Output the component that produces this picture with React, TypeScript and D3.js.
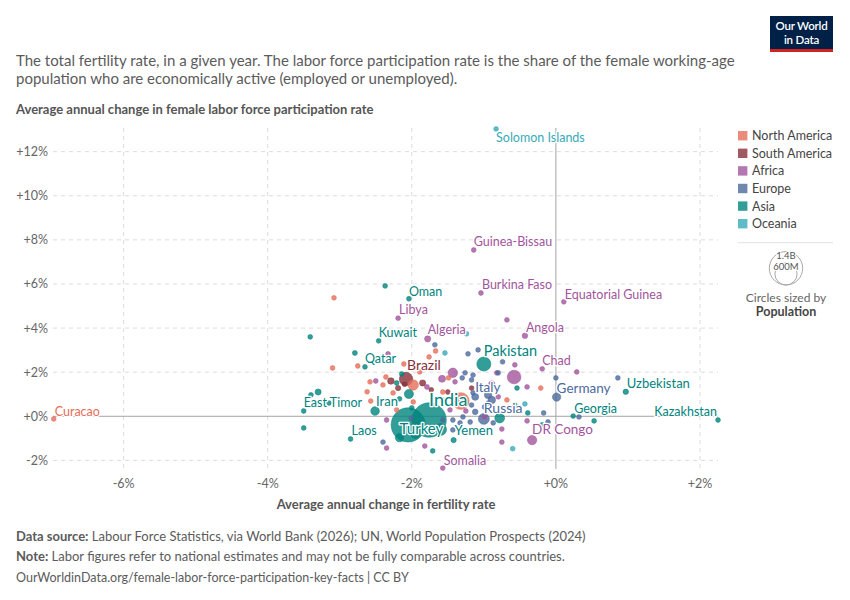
import React from "react";
import * as d3 from "d3";

const FONT = "Lato, 'Noto Sans', 'DejaVu Sans', sans-serif";

const regions = ["North America", "South America", "Africa", "Europe", "Asia", "Oceania"];
const regionColors = ["#E56E5A", "#883039", "#A2559C", "#4C6A9C", "#00847E", "#38AABA"];

const xTicks = [-6, -4, -2, 0, 2];
const yTicks = [-2, 0, 2, 4, 6, 8, 10, 12];

// [fertility change %, labor force change %, population (millions)]
type Pt = [number, number, number];

const northAmerica: Pt[] = [
  [-3.08, 5.37, 3], [-1.67, 2.96, 3], [-3.10, 2.19, 2], [-2.75, 2.28, 3], [-2.11, 2.37, 2],
  [-1.76, 2.69, 4], [-2.36, 1.78, 3], [-2.58, 1.56, 5], [-2.40, 1.42, 6], [-1.98, 1.42, 130],
  [-2.26, 1.06, 10], [-2.62, 1.11, 2], [-2.57, 0.69, 5], [-2.21, 0.29, 11], [-1.98, 0.65, 3],
  [-1.57, 1.10, 4], [-1.32, 0.69, 340], [-0.68, 0.74, 5], [-0.21, 1.28, 3], [-1.89, 2.01, 2],
  [-1.49, 1.74, 2],
];

const southAmerica: Pt[] = [
  [-2.29, 1.60, 52], [-1.85, 1.51, 46], [-1.50, 1.10, 7], [-1.17, 1.28, 12], [-2.19, 1.28, 34],
  [-1.73, 1.20, 28], [-2.10, 1.45, 20],
];

const africa: Pt[] = [
  [-0.68, 4.37, 9], [-2.33, 2.83, 6], [-0.57, 2.33, 12], [0.29, 2.01, 5], [-0.82, 1.97, 8],
  [-0.58, 1.78, 225], [-1.43, 1.97, 110], [-1.58, 1.70, 60], [-1.40, 1.56, 14], [-0.89, 1.47, 45],
  [-2.50, 1.60, 6], [-1.79, 1.33, 30], [-2.35, -0.17, 9], [-1.47, 0.29, 17], [-0.99, -0.03, 20],
  [-0.40, -0.21, 8], [-0.75, -0.58, 13], [-0.75, -1.17, 10], [-1.82, -1.35, 6], [-2.35, -1.44, 4],
  [-0.80, 0.88, 12], [-0.40, 1.33, 15], [-1.25, 0.24, 25],
];

const europe: Pt[] = [
  [-1.22, 2.83, 3], [-1.08, 3.01, 4], [-1.68, 3.24, 2], [-0.74, 2.47, 3], [-1.26, 1.97, 5],
  [-1.15, 1.87, 6], [-1.30, 1.74, 4], [-0.80, 1.97, 3], [-1.17, 1.65, 10], [-1.15, 1.06, 5],
  [-0.89, 0.74, 68], [-0.94, 0.60, 10], [-0.99, 0.42, 19], [-1.57, 0.74, 8], [-1.12, 0.20, 38],
  [-1.17, 0.51, 11], [-1.29, -0.03, 5], [-1.19, -0.26, 9], [-1.33, -0.30, 6], [-1.43, -0.17, 4],
  [-1.57, -0.17, 3], [-0.87, -0.30, 10], [-2.01, -0.08, 3], [-2.40, -1.17, 2], [0.0, 1.74, 3],
  [0.86, 1.74, 4], [-0.17, 0.15, 5], [0.32, -0.03, 3], [-0.11, -0.26, 9], [-1.43, -0.62, 7],
  [-0.94, 0.97, 67],
];

const asia: Pt[] = [
  [-2.37, 5.91, 2], [-3.41, 3.60, 3], [-2.79, 2.87, 30], [-2.14, 1.92, 5], [-2.21, 1.51, 6],
  [-2.04, 1.01, 100], [-3.30, 1.10, 45], [-3.40, 0.97, 6], [-3.15, 0.60, 4], [-3.50, -0.53, 5],
  [-2.17, 0.79, 4], [-2.00, 0.38, 10], [-1.71, -1.57, 25], [-0.78, -0.08, 115], [-0.57, 0.51, 7],
  [-0.54, 1.28, 5], [-0.39, 0.15, 10], [0.53, -0.21, 6], [-0.19, -0.39, 8], [-2.05, -0.39, 1410],
  [-1.60, -0.60, 170], [-1.95, -0.80, 100],
];

const oceania: Pt[] = [
  [-1.54, 2.87, 2], [-1.24, 3.74, 1], [-0.43, 0.56, 3], [-0.60, -1.47, 1],
];

const regionPoints = [northAmerica, southAmerica, africa, europe, asia, oceania];

// labeled countries: [name, region index, fertility change %, labor change %, population (millions)]
const labeled: [string, number, number, number, number][] = [
  ["Solomon Islands", 5, -0.83, 13.03, 0.8],
  ["Guinea-Bissau", 2, -1.14, 7.54, 2.1],
  ["Burkina Faso", 2, -1.04, 5.59, 23],
  ["Equatorial Guinea", 2, 0.11, 5.19, 1.8],
  ["Oman", 4, -2.04, 5.33, 5],
  ["Libya", 2, -2.19, 4.45, 7],
  ["Kuwait", 4, -2.46, 3.42, 4.3],
  ["Algeria", 2, -1.78, 3.51, 46],
  ["Angola", 2, -0.43, 3.65, 37],
  ["Pakistan", 4, -1.0, 2.37, 240],
  ["Chad", 2, -0.19, 2.15, 19],
  ["Qatar", 4, -2.65, 2.24, 3],
  ["Brazil", 1, -2.08, 1.69, 216],
  ["East Timor", 4, -3.5, 0.24, 1.4],
  ["Iran", 4, -2.51, 0.24, 90],
  ["India", 4, -1.76, -0.17, 1430],
  ["Turkey", 4, -2.17, -0.97, 85],
  ["Italy", 3, -1.12, 0.88, 59],
  ["Russia", 3, -1.0, -0.12, 144],
  ["Germany", 3, 0.01, 0.87, 84],
  ["Uzbekistan", 4, 0.97, 1.11, 36],
  ["Georgia", 4, 0.24, 0.01, 3.7],
  ["Kazakhstan", 4, 2.25, -0.17, 20],
  ["Curacao", 0, -6.97, -0.12, 0.2],
  ["Laos", 4, -2.85, -1.03, 7.6],
  ["Yemen", 4, -1.42, -1.08, 34],
  ["DR Congo", 2, -0.33, -1.08, 105],
  ["Somalia", 2, -1.57, -2.35, 18],
];

// label styling: [dx, dy, anchor, font size]
const labelStyle: Record<string, [number, number, string, number]> = {
  "Solomon Islands": [0, 13, "start", 12.5],
  "Guinea-Bissau": [0, -4, "start", 12.5],
  "Burkina Faso": [1, -4, "start", 12.5],
  "Equatorial Guinea": [1, -3, "start", 12.5],
  Oman: [0, -3, "start", 12.5],
  Libya: [1, -4, "start", 12.5],
  Kuwait: [0, -4, "start", 12.5],
  Algeria: [0, -5, "start", 12.5],
  Angola: [1, -4, "start", 12.5],
  Pakistan: [0, -8, "start", 14.5],
  Chad: [0, -4, "start", 12.5],
  Qatar: [0, -4, "start", 12.5],
  Brazil: [1, -9, "start", 14],
  "East Timor": [0, -4, "start", 12.5],
  Iran: [1, -5, "start", 13],
  India: [0, -14, "start", 18],
  Turkey: [0, -4, "start", 15],
  Italy: [0, -5, "start", 13.5],
  Russia: [0, -6, "start", 14],
  Germany: [0, -4, "start", 13.5],
  Uzbekistan: [1, -4, "start", 13],
  Georgia: [1, -3, "start", 12.5],
  Kazakhstan: [-1, -4, "end", 12.5],
  Curacao: [1, -3, "start", 12.5],
  Laos: [1, -4, "start", 12.5],
  Yemen: [1, -5, "start", 13],
  "DR Congo": [0, -6, "start", 13.5],
  Somalia: [1, -3, "start", 12.5],
};

const titleLines = [
  "The total fertility rate, in a given year. The labor force participation rate is the share of the female working-age",
  "population who are economically active (employed or unemployed).",
];

export default function App() {
  const x = d3.scaleLinear().domain([-6.98, 2.25]).range([53, 718]);
  const y = d3.scaleLinear().domain([-2.4, 13.05]).range([469.2, 128.5]);
  const r = (pop: number) => Math.max(2.4, 17 * Math.sqrt(pop / 1400));

  const allPts: { fx: number; fy: number; pop: number; reg: number }[] = [];
  regionPoints.forEach((arr, reg) => arr.forEach(([fx, fy, pop]) => allPts.push({ fx, fy, pop, reg })));
  labeled.forEach(([, reg, fx, fy, pop]) => allPts.push({ fx, fy, pop, reg }));
  allPts.sort((a, b) => b.pop - a.pop);

  const grey = "#5b5b5b";
  const x0 = x(0);
  const y0 = y(0);

  return (
    <svg width={850} height={600} style={{ position: "absolute", left: 0, top: 0, background: "#fff" }} fontFamily={FONT}>
      {/* Logo */}
      <rect x={770} y={16} width={63} height={36} fill="#002147" />
      <rect x={770} y={49} width={63} height={3} fill="#ce261e" />
      <text x={801.5} y={29.5} textAnchor="middle" fill="#fff" fontSize={11.5} fontWeight={600} letterSpacing={-0.2}>Our World</text>
      <text x={801.5} y={44} textAnchor="middle" fill="#fff" fontSize={11.5} fontWeight={600} letterSpacing={-0.2}>in Data</text>

      {/* Subtitle */}
      {titleLines.map((t, i) => (
        <text key={i} x={16} y={66 + i * 18} fill={grey} fontSize={15}>{t}</text>
      ))}
      <text x={16} y={114} fill="#555" fontSize={13} fontWeight={700}>
        Average annual change in female labor force participation rate
      </text>

      {/* Grid */}
      {yTicks.filter((t) => t !== 0).map((t) => (
        <line key={"gy" + t} x1={53} x2={718} y1={y(t)} y2={y(t)} stroke="#dcdcdc" strokeDasharray="4,4" />
      ))}
      {xTicks.filter((t) => t !== 0).map((t) => (
        <line key={"gx" + t} x1={x(t)} x2={x(t)} y1={128} y2={469} stroke="#dcdcdc" strokeDasharray="4,4" />
      ))}
      <line x1={53} x2={718} y1={y0} y2={y0} stroke="#a3a3a3" />
      <line x1={x0} x2={x0} y1={128} y2={469} stroke="#a3a3a3" />

      {/* Tick labels */}
      {yTicks.map((t) => (
        <text key={"ty" + t} x={48} y={y(t) + 4.5} textAnchor="end" fill="#666" fontSize={12.5}>
          {t < 0 ? `${t}%` : `+${t}%`}
        </text>
      ))}
      {xTicks.map((t) => (
        <text key={"tx" + t} x={x(t)} y={488} textAnchor="middle" fill="#666" fontSize={12.5}>
          {t < 0 ? `${t}%` : `+${t}%`}
        </text>
      ))}
      <text x={386} y={509} textAnchor="middle" fill="#555" fontSize={13} fontWeight={700}>
        Average annual change in fertility rate
      </text>

      {/* Points */}
      {allPts.map((p, i) => (
        <circle
          key={"p" + i}
          cx={x(p.fx)}
          cy={y(p.fy)}
          r={r(p.pop)}
          fill={regionColors[p.reg]}
          fillOpacity={0.8}
          stroke={regionColors[p.reg]}
          strokeWidth={0.6}
          strokeOpacity={0.9}
        />
      ))}

      {/* Labels */}
      {labeled.map(([name, reg, fx, fy]) => {
        const [dx, dy, anchor, fs] = labelStyle[name];
        const col = regionColors[reg];
        return (
          <text
            key={"l" + name}
            x={x(fx) + dx}
            y={y(fy) + dy}
            textAnchor={anchor as any}
            fontSize={fs}
            fill={col}
            stroke="#fff"
            strokeWidth={2.5}
            strokeLinejoin="round"
            paintOrder="stroke"
          >
            {name}
          </text>
        );
      })}

      {/* Legend */}
      {regions.map((name, i) => {
        const cy = 135.7 + i * 17.6;
        return (
          <g key={"lg" + name}>
            <rect x={738} y={cy - 4.7} width={9.4} height={9.4} fill={regionColors[i]} fillOpacity={0.8} />
            <text x={752} y={cy + 4.5} fill="#444" fontSize={12.5}>{name}</text>
          </g>
        );
      })}
      <line x1={738} x2={833} y1={242.7} y2={242.7} stroke="#e0e0e0" />
      <circle cx={786} cy={285 - 16.7} r={16.7} fill="none" stroke="#a8a8a8" />
      <circle cx={786} cy={285 - 11.1} r={11.1} fill="none" stroke="#a8a8a8" />
      <text x={786} y={258.5} textAnchor="middle" fontSize={9.5} fill="#555" stroke="#fff" strokeWidth={2} paintOrder="stroke">1.4B</text>
      <text x={786} y={270} textAnchor="middle" fontSize={9.5} fill="#555" stroke="#fff" strokeWidth={2} paintOrder="stroke">600M</text>
      <text x={786} y={302} textAnchor="middle" fontSize={12} fill="#666">Circles sized by</text>
      <text x={786} y={316} textAnchor="middle" fontSize={12.5} fontWeight={700} fill="#444">Population</text>

      {/* Footer */}
      <text x={16} y={541} fill={grey} fontSize={13}>
        <tspan fontWeight={700}>Data source:</tspan> Labour Force Statistics, via World Bank (2026); UN, World Population Prospects (2024)
      </text>
      <text x={16} y={561} fill={grey} fontSize={13}>
        <tspan fontWeight={700}>Note:</tspan> Labor figures refer to national estimates and may not be fully comparable across countries.
      </text>
      <text x={16} y={582} fill={grey} fontSize={12.5}>
        OurWorldinData.org/female-labor-force-participation-key-facts | CC BY
      </text>
    </svg>
  );
}
